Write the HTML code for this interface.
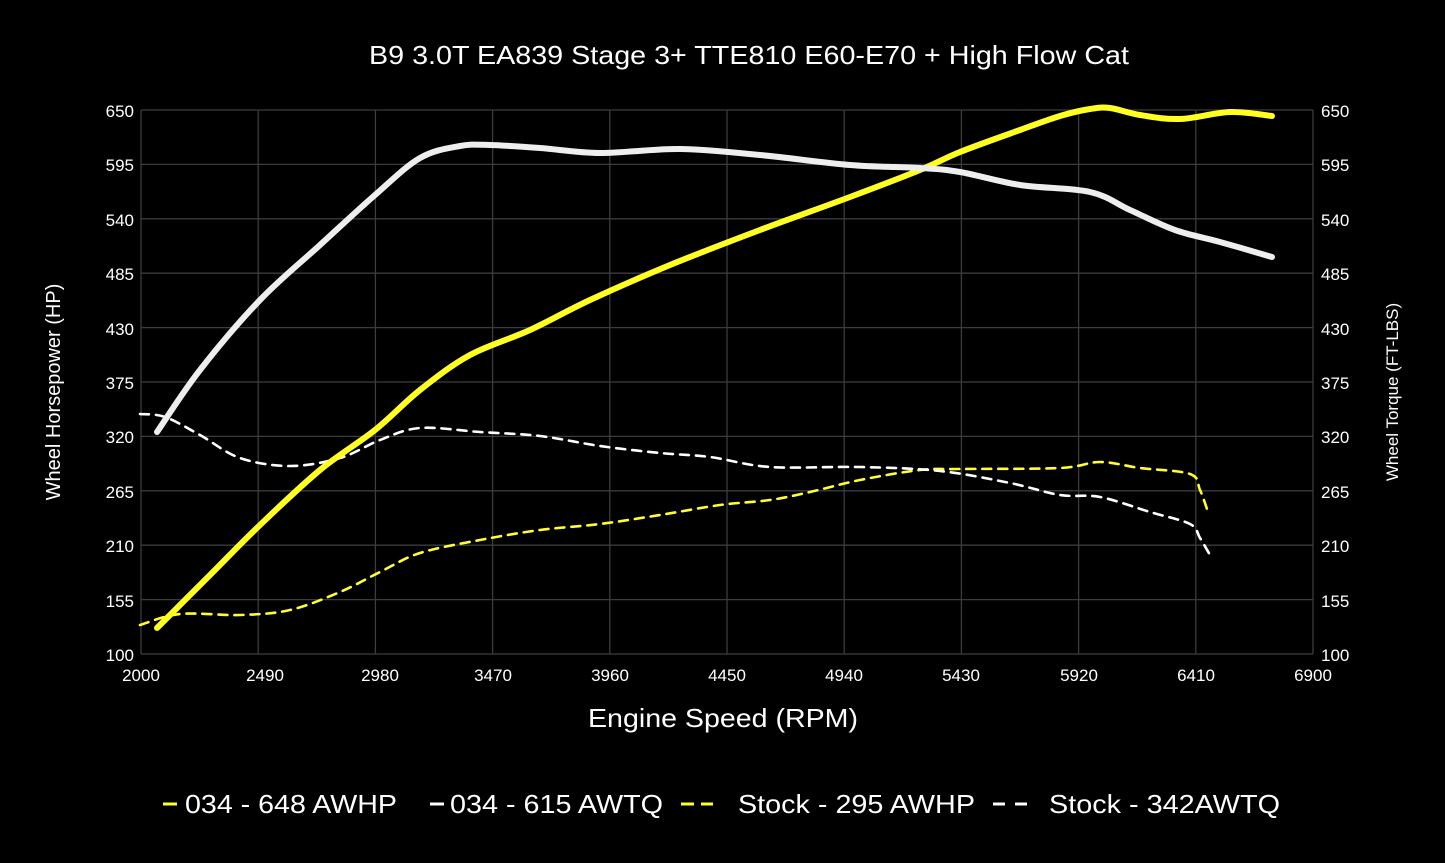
<!DOCTYPE html>
<html><head><style>
html,body{margin:0;padding:0;background:#000;}
svg{display:block;font-family:"Liberation Sans",Arial,sans-serif;}
</style></head><body>
<svg id="s" width="1445" height="863" viewBox="0 0 1445 863">
<rect width="1445" height="863" fill="#000"/>
<text x="749" y="64" fill="#fff" font-size="26" text-anchor="middle" textLength="760" lengthAdjust="spacingAndGlyphs">B9 3.0T EA839 Stage 3+ TTE810 E60-E70 + High Flow Cat</text>
<g stroke="#3c3c3c" stroke-width="1.3">
<line x1="141" y1="110" x2="1313" y2="110"/><line x1="141" y1="164.4" x2="1313" y2="164.4"/><line x1="141" y1="218.8" x2="1313" y2="218.8"/><line x1="141" y1="273.2" x2="1313" y2="273.2"/><line x1="141" y1="327.6" x2="1313" y2="327.6"/><line x1="141" y1="382" x2="1313" y2="382"/><line x1="141" y1="436.4" x2="1313" y2="436.4"/><line x1="141" y1="490.8" x2="1313" y2="490.8"/><line x1="141" y1="545.2" x2="1313" y2="545.2"/><line x1="141" y1="599.6" x2="1313" y2="599.6"/><line x1="141" y1="654" x2="1313" y2="654"/>
<line x1="141" y1="110" x2="141" y2="654"/><line x1="258.2" y1="110" x2="258.2" y2="654"/><line x1="375.4" y1="110" x2="375.4" y2="654"/><line x1="492.6" y1="110" x2="492.6" y2="654"/><line x1="609.8" y1="110" x2="609.8" y2="654"/><line x1="727" y1="110" x2="727" y2="654"/><line x1="844.2" y1="110" x2="844.2" y2="654"/><line x1="961.4" y1="110" x2="961.4" y2="654"/><line x1="1078.6" y1="110" x2="1078.6" y2="654"/><line x1="1195.8" y1="110" x2="1195.8" y2="654"/><line x1="1313" y1="110" x2="1313" y2="654"/>
</g>
<g fill="#fff" font-size="17" text-anchor="end">
<text x="134" y="117">650</text><text x="134" y="171">595</text><text x="134" y="226">540</text><text x="134" y="280">485</text><text x="134" y="335">430</text><text x="134" y="389">375</text><text x="134" y="443">320</text><text x="134" y="498">265</text><text x="134" y="552">210</text><text x="134" y="607">155</text><text x="134" y="661">100</text>
</g>
<g fill="#fff" font-size="17" text-anchor="start">
<text x="1321" y="117">650</text><text x="1321" y="171">595</text><text x="1321" y="226">540</text><text x="1321" y="280">485</text><text x="1321" y="335">430</text><text x="1321" y="389">375</text><text x="1321" y="443">320</text><text x="1321" y="498">265</text><text x="1321" y="552">210</text><text x="1321" y="607">155</text><text x="1321" y="661">100</text>
</g>
<g fill="#fff" font-size="17" text-anchor="middle">
<text x="141" y="681">2000</text><text x="265" y="681">2490</text><text x="380" y="681">2980</text><text x="493" y="681">3470</text><text x="610" y="681">3960</text><text x="727" y="681">4450</text><text x="844" y="681">4940</text><text x="961" y="681">5430</text><text x="1079" y="681">5920</text><text x="1196" y="681">6410</text><text x="1313" y="681">6900</text>
</g>
<text x="723" y="727" fill="#fff" font-size="26" text-anchor="middle" textLength="270" lengthAdjust="spacingAndGlyphs">Engine Speed (RPM)</text>
<text transform="translate(60,392) rotate(-90)" fill="#fff" font-size="20" text-anchor="middle">Wheel Horsepower (HP)</text>
<text transform="translate(1398,392) rotate(-90)" fill="#fff" font-size="17" text-anchor="middle">Wheel Torque (FT-LBS)</text>
<g fill="none" stroke-linejoin="round" stroke-linecap="round" id="g">
<path data-p="140,625 180,614 240,615 290,610 340,592 380,572 420,553 480,540 540,530 600,524 660,515 720,505 770,500 810,492 860,480 920,470 960,469 1060,468 1100,462 1140,468 1190,474 1200,490 1208,512" stroke="#ffff33" stroke-width="2.6" stroke-dasharray="9,7"/>
<path data-p="140,414 165,417 200,435 240,458 290,466 340,458 380,440 420,428 480,432 540,436 600,446 660,453 710,457 770,467 860,467 940,471 1010,483 1060,495 1100,497 1150,512 1190,524 1200,538 1210,555" stroke="#fff" stroke-width="2.6" stroke-dasharray="9,7"/>
<path data-p="157,628 210,575 260,525 320,470 375,430 420,390 470,355 530,330 590,300 670,265 760,230 850,197 920,170 960,152 1020,130 1060,116 1090,109 1110,108 1140,115 1180,119 1230,112 1272,116" stroke="#ffff22" stroke-width="6"/>
<path data-p="157,432 200,370 260,300 320,245 375,195 420,158 460,146 490,145 540,148 600,153 680,149 760,155 850,165 920,168 960,172 1020,185 1090,192 1130,210 1175,230 1220,242 1272,257" stroke="#eeeeee" stroke-width="6"/>
</g>
<g font-size="26" fill="#fff">
<line x1="163" y1="804" x2="177" y2="804" stroke="#ffff33" stroke-width="3"/>
<text x="185" y="813" textLength="212" lengthAdjust="spacingAndGlyphs">034 - 648 AWHP</text>
<line x1="430" y1="804" x2="444" y2="804" stroke="#fff" stroke-width="3"/>
<text x="450" y="813" textLength="213" lengthAdjust="spacingAndGlyphs">034 - 615 AWTQ</text>
<line x1="681" y1="804" x2="694" y2="804" stroke="#ffff33" stroke-width="3"/><line x1="701" y1="804" x2="713" y2="804" stroke="#ffff33" stroke-width="3"/>
<text x="738" y="813" textLength="237" lengthAdjust="spacingAndGlyphs">Stock - 295 AWHP</text>
<line x1="993" y1="804" x2="1005" y2="804" stroke="#fff" stroke-width="3"/><line x1="1015" y1="804" x2="1027" y2="804" stroke="#fff" stroke-width="3"/>
<text x="1049" y="813" textLength="231" lengthAdjust="spacingAndGlyphs">Stock - 342AWTQ</text>
</g>
</svg>
<script>
document.querySelectorAll('#g path').forEach(function(el){
 var p=el.getAttribute('data-p').split(' ').map(function(s){return s.split(',').map(Number);});
 var d='M'+p[0][0]+','+p[0][1];
 for(var i=0;i<p.length-1;i++){
  var p0=p[i-1]||p[i],p1=p[i],p2=p[i+1],p3=p[i+2]||p2;
  var c1x=p1[0]+(p2[0]-p0[0])/6,c1y=p1[1]+(p2[1]-p0[1])/6;
  var c2x=p2[0]-(p3[0]-p1[0])/6,c2y=p2[1]-(p3[1]-p1[1])/6;
  d+=' C'+c1x+','+c1y+' '+c2x+','+c2y+' '+p2[0]+','+p2[1];
 }
 el.setAttribute('d',d);
});
</script>
</body></html>
